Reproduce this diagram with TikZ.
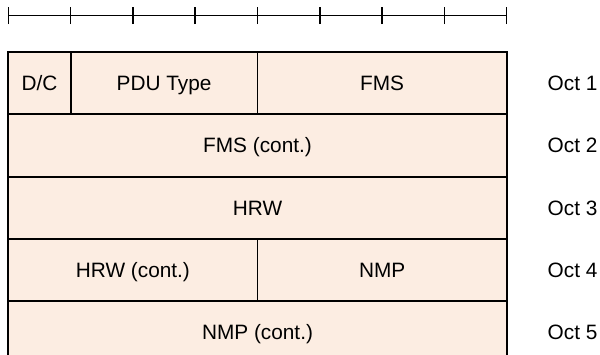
\documentclass[tikz,border=0pt]{standalone}
\usepackage{fontspec}
\setmainfont{Liberation Sans}
\usetikzlibrary{positioning}
\definecolor{fieldfill}{RGB}{252,237,226}

\begin{document}
\begin{tikzpicture}[x=1cm,y=1cm,
    field/.style={draw,fill=fieldfill,line width=0.9pt,minimum height=1cm,
      inner sep=0pt,outer sep=0pt,anchor=north west,text height=1.5ex,text depth=0.25ex,
      font=\fontsize{9.5}{11}\selectfont},
    octlabel/.style={inner sep=0pt,anchor=west,text height=1.5ex,text depth=0.25ex,
      font=\fontsize{9.5}{11}\selectfont}]
  \clip(-0.133,0.835) rectangle (9.497,-4.847);
  % bit ruler
  \coordinate(R0) at (0,0.583);
  \coordinate(R8) at (8,0.583);
  \draw[line width=0.7pt](R0)--(R8);
  \foreach \i in {0,...,8}
    \draw[line width=0.7pt](\i,0.447)--(\i,0.719);
  % octet 1
  \node[field,minimum width=1cm](dc) at (0,0){D/C};
  \node[field,minimum width=3cm](pdu) at (1,0){PDU Type};
  \node[field,minimum width=4cm](fms) at (4,0){FMS};
  % octet 2
  \node[field,minimum width=8cm](fmsc) at (0,-1){FMS (cont.)};
  % octet 3
  \node[field,minimum width=8cm](hrw) at (0,-2){HRW};
  % octet 4
  \node[field,minimum width=4cm](hrwc) at (0,-3){HRW (cont.)};
  \node[field,minimum width=4cm](nmp) at (4,-3){NMP};
  % octet 5
  \node[field,minimum width=8cm](nmpc) at (0,-4){NMP (cont.)};
  % octet labels
  \foreach \i in {1,...,5}
    \node[octlabel](oct\i) at (8.65,0.5-\i){Oct \i};
\end{tikzpicture}
\end{document}
